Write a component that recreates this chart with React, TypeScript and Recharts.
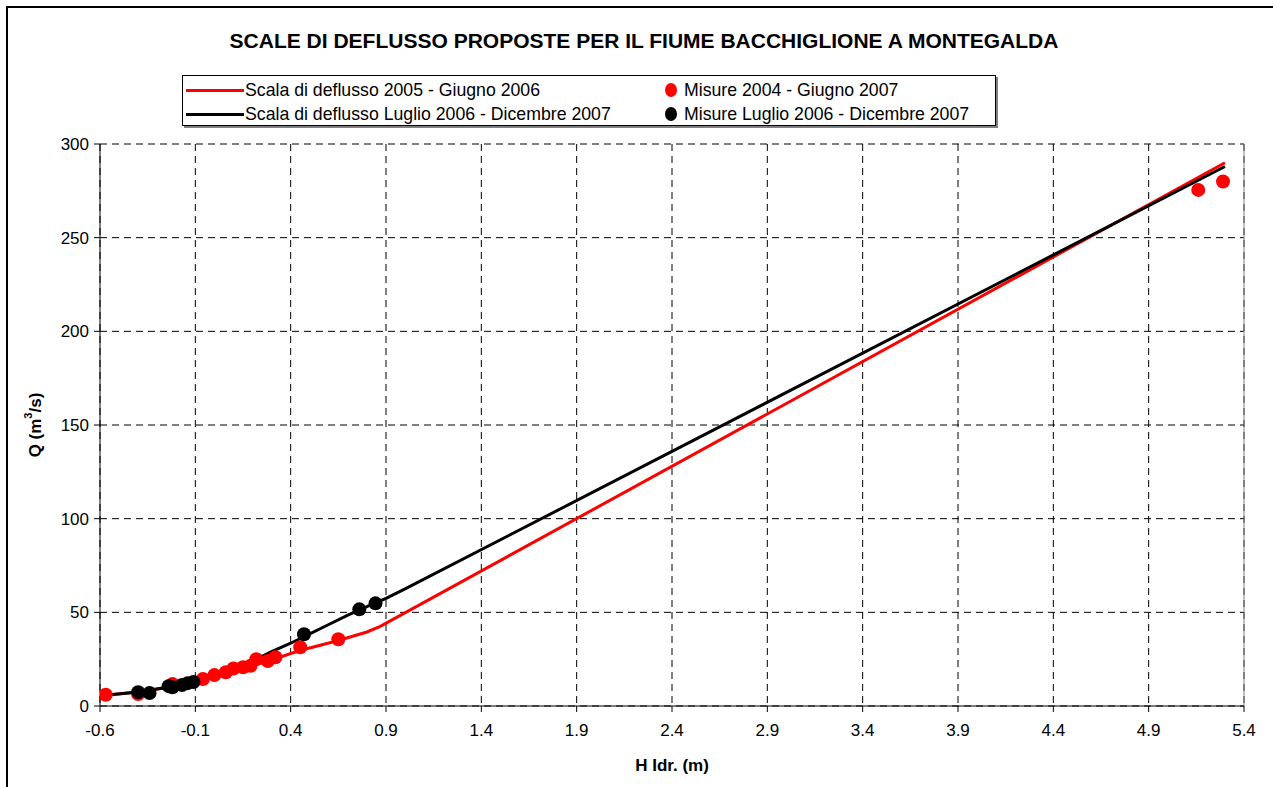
import React from 'react';
import {
  ComposedChart,
  Line,
  Scatter,
  XAxis,
  YAxis,
  CartesianGrid,
  Legend,
  ReferenceLine,
} from 'recharts';

// rating curves (H in m, Q in m3/s)
const curve2005H = [-0.6, -0.4, -0.2, -0.1, 0, 0.1, 0.2, 0.3, 0.4, 0.5, 0.65, 0.8, 0.87, 5.3];
const curve2005Q = [5.5, 7.5, 10.5, 13.5, 16.5, 19, 21.5, 24.5, 28, 31, 35, 39.5, 42.5, 290];

const curve2006H = [-0.6, -0.4, -0.2, -0.1, 0, 0.1, 0.2, 0.3, 0.4, 0.5, 0.6, 0.7, 0.8, 0.9, 1.0, 5.3];
const curve2006Q = [5.5, 7.5, 10.8, 13.5, 16.5, 20, 24, 29, 33.5, 38.5, 43.5, 48.5, 53, 57.5, 62.5, 288];

// measurements
const misure2004H = [-0.57, -0.4, -0.22, -0.06, 0.0, 0.06, 0.1, 0.15, 0.19, 0.22, 0.28, 0.32, 0.45, 0.65, 5.16, 5.29];
const misure2004Q = [6, 6.4, 11.7, 14.4, 16.5, 18, 20, 20.7, 21.5, 25, 24, 26, 31.4, 35.6, 275.5, 280];

const misure2006H = [-0.4, -0.34, -0.24, -0.22, -0.17, -0.14, -0.11, 0.47, 0.76, 0.845];
const misure2006Q = [7.4, 6.9, 10.6, 10, 11.2, 12.2, 12.8, 38.3, 51.6, 54.8];

const xTicks = [-0.6, -0.1, 0.4, 0.9, 1.4, 1.9, 2.4, 2.9, 3.4, 3.9, 4.4, 4.9, 5.4];
const yTicks = [0, 50, 100, 150, 200, 250, 300];

const legendItems = [
  { label: 'Scala di deflusso 2005 - Giugno 2006', color: '#ff0000', kind: 'line' },
  { label: 'Misure 2004 - Giugno 2007', color: '#ff0000', kind: 'dot' },
  { label: 'Scala di deflusso Luglio 2006 - Dicembre 2007', color: '#000000', kind: 'line' },
  { label: 'Misure Luglio 2006 - Dicembre 2007', color: '#000000', kind: 'dot' },
];

const toPoints = (hs: number[], qs: number[]) => hs.map((h, i) => ({ h, q: qs[i] }));

const FONT = '"Liberation Sans", Arial, sans-serif';

const LegendBox = () => (
  <div
    style={{
      width: 812,
      height: 49,
      border: '1px solid #000',
      boxShadow: '2px 2px 0 #808080',
      background: '#fff',
      fontFamily: FONT,
      fontSize: 17.7,
      position: 'relative',
    }}
  >
    {legendItems.map((it, i) => {
      const col = i % 2;
      const row = Math.floor(i / 2);
      const left = col === 0 ? 3 : 482;
      const top = row === 0 ? 4 : 28;
      return (
        <div key={it.label} style={{ position: 'absolute', left, top, display: 'flex', alignItems: 'center', height: 20, whiteSpace: 'nowrap' }}>
          {it.kind === 'line' ? (
            <span style={{ display: 'inline-block', width: 58, height: 3, background: it.color }} />
          ) : (
            <span style={{ display: 'inline-block', width: 12, height: 14, borderRadius: '50%', background: it.color }} />
          )}
          <span style={{ marginLeft: it.kind === 'line' ? 1 : 7 }}>{it.label}</span>
        </div>
      );
    })}
  </div>
);

const dot = (color: string) => (props: any) => (
  <circle cx={props.cx} cy={props.cy} r={7} fill={color} stroke="none" />
);

export default function App() {
  return (
    <>
      <style>{'html, body { margin: 0; padding: 0; background: #fff; }'}</style>
      <div style={{ position: 'relative', width: 1273, height: 787, background: '#fff', overflow: 'hidden', fontFamily: FONT }}>
        <div style={{ position: 'absolute', left: 0, width: 1288, top: 29, textAlign: 'center', fontWeight: 'bold', fontSize: 21, fontFamily: FONT }}>
          SCALE DI DEFLUSSO PROPOSTE PER IL FIUME BACCHIGLIONE A MONTEGALDA
        </div>
        <div style={{ position: 'absolute', left: 0, top: 0 }}>
          <ComposedChart width={1273} height={787} margin={{ top: 144, right: 29, left: 40, bottom: 41 }}>
            <CartesianGrid stroke="#000" strokeDasharray="7 5" horizontalValues={yTicks} verticalValues={xTicks} />
            <XAxis
              dataKey="h"
              type="number"
              domain={[-0.6, 5.4]}
              ticks={xTicks}
              interval={0}
              allowDataOverflow
              height={40}
              tickSize={6}
              tickMargin={12}
              stroke="#000"
              tick={{ fill: '#000', fontSize: 17, fontFamily: FONT }}
              tickFormatter={(v: number) => v.toFixed(1)}
              label={{ value: 'H Idr. (m)', position: 'insideBottom', offset: -25, fill: '#000', fontSize: 17, fontWeight: 'bold', fontFamily: FONT }}
            />
            <YAxis
              dataKey="q"
              type="number"
              domain={[0, 300]}
              ticks={yTicks}
              interval={0}
              width={60}
              tickSize={6}
              tickMargin={5}
              stroke="#000"
              tick={{ fill: '#000', fontSize: 17, fontFamily: FONT }}
              label={({ viewBox }: any) => {
                const cy = viewBox.y + viewBox.height / 2;
                return (
                  <text
                    x={35}
                    y={cy}
                    transform={`rotate(-90 35 ${cy})`}
                    textAnchor="middle"
                    dominantBaseline="central"
                    fontSize={17}
                    fontWeight="bold"
                    fontFamily={FONT}
                    fill="#000"
                  >
                    <tspan>Q (m</tspan>
                    <tspan fontSize={11} dy={-7}>3</tspan>
                    <tspan dy={7}>/s)</tspan>
                  </text>
                );
              }}
            />
            <ReferenceLine x={5.4} stroke="#808080" strokeWidth={1} />
            <Line data={toPoints(curve2005H, curve2005Q)} dataKey="q" type="linear" stroke="#ff0000" strokeWidth={3} dot={false} activeDot={false} isAnimationActive={false} />
            <Line data={toPoints(curve2006H, curve2006Q)} dataKey="q" type="linear" stroke="#000000" strokeWidth={3} dot={false} activeDot={false} isAnimationActive={false} />
            <Scatter data={toPoints(misure2004H, misure2004Q)} dataKey="q" shape={dot('#ff0000')} isAnimationActive={false} />
            <Scatter data={toPoints(misure2006H, misure2006Q)} dataKey="q" shape={dot('#000000')} isAnimationActive={false} />
            <Legend
              layout="horizontal"
              verticalAlign="middle"
              align="center"
              wrapperStyle={{ position: 'absolute', left: 182, top: 75, width: 814, height: 51 }}
              content={() => <LegendBox />}
            />
          </ComposedChart>
        </div>
        {/* outer chart frame, cut off at right and bottom as in the source */}
        <svg width={1273} height={787} style={{ position: 'absolute', left: 0, top: 0, zIndex: 5, pointerEvents: 'none' }}>
          <path d="M7 787 V7 H1273" fill="none" stroke="#000" strokeWidth={2} />
        </svg>
      </div>
    </>
  );
}
